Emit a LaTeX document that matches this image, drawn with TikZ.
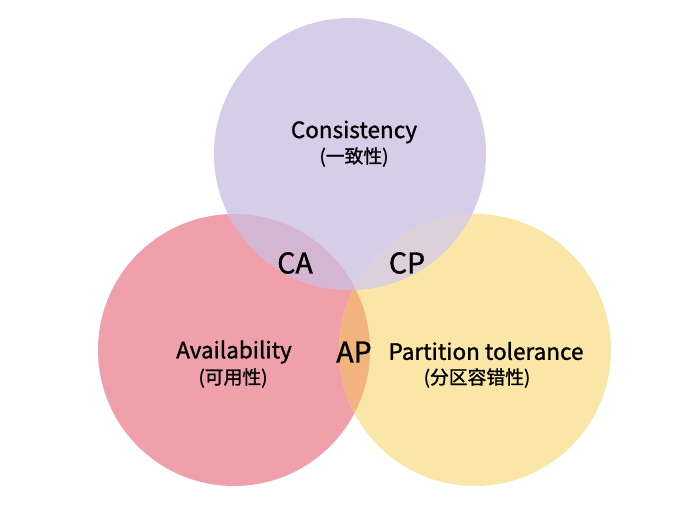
\documentclass[tikz,border=0pt]{standalone}
\usepackage{fontspec}
\setmainfont{Noto Sans CJK SC}
\newfontfamily\medfont{Noto Sans CJK SC}[FakeBold=1.2]
\definecolor{cpurple}{HTML}{D6CDE9}
\definecolor{cred}{HTML}{EFA0AB}
\definecolor{cyellow}{HTML}{FAE7A7}
\definecolor{cAP}{HTML}{F2B37E}
\definecolor{cCA}{HTML}{D4B5D2}
\definecolor{cCP}{HTML}{DCD1DA}
\definecolor{cABC}{HTML}{DDBCC0}
\begin{document}
\begin{tikzpicture}[x=1pt,y=-1pt,
  en/.style={font=\medfont\fontsize{22.5}{26}\selectfont, text=black, inner sep=0pt},
  zh/.style={font=\medfont\fontsize{18.8}{22}\selectfont, text=black, inner sep=0pt},
  pair/.style={font=\medfont\fontsize{28.5}{32}\selectfont, text=black, inner sep=0pt}]
\useasboundingbox[fill=white] (0,0) rectangle (692,517);
\def\Ccirc{(350,154) circle[radius=136]}
\def\Acirc{(234,350) circle[radius=136]}
\def\Pcirc{(475,350) circle[radius=136]}
% base circles
\fill[cred] \Acirc;
\fill[cyellow] \Pcirc;
\begin{scope}\clip \Acirc; \fill[cAP] \Pcirc; \end{scope}
\fill[cpurple] \Ccirc;
\begin{scope}\clip \Ccirc; \fill[cCA] \Acirc; \end{scope}
\begin{scope}\clip \Ccirc; \fill[cCP] \Pcirc; \end{scope}
\begin{scope}\clip \Ccirc; \clip \Acirc; \fill[cABC] \Pcirc; \end{scope}
% labels
\node[en] (c) at (354,132) {Consistency};
\node[zh] (czh) at (354,157) {(一致性)};
\node[en] (a) at (234,352) {Availability};
\node[zh] (azh) at (233,378) {(可用性)};
\node[en] (p) at (486,351) {Partition tolerance};
\node[zh] (pzh) at (477,378) {(分区容错性)};
\node[pair] (ca) at (295,263) {CA};
\node[pair] (cp) at (407,263) {CP};
\node[pair] (ap) at (354,352) {AP};
\end{tikzpicture}
\end{document}
